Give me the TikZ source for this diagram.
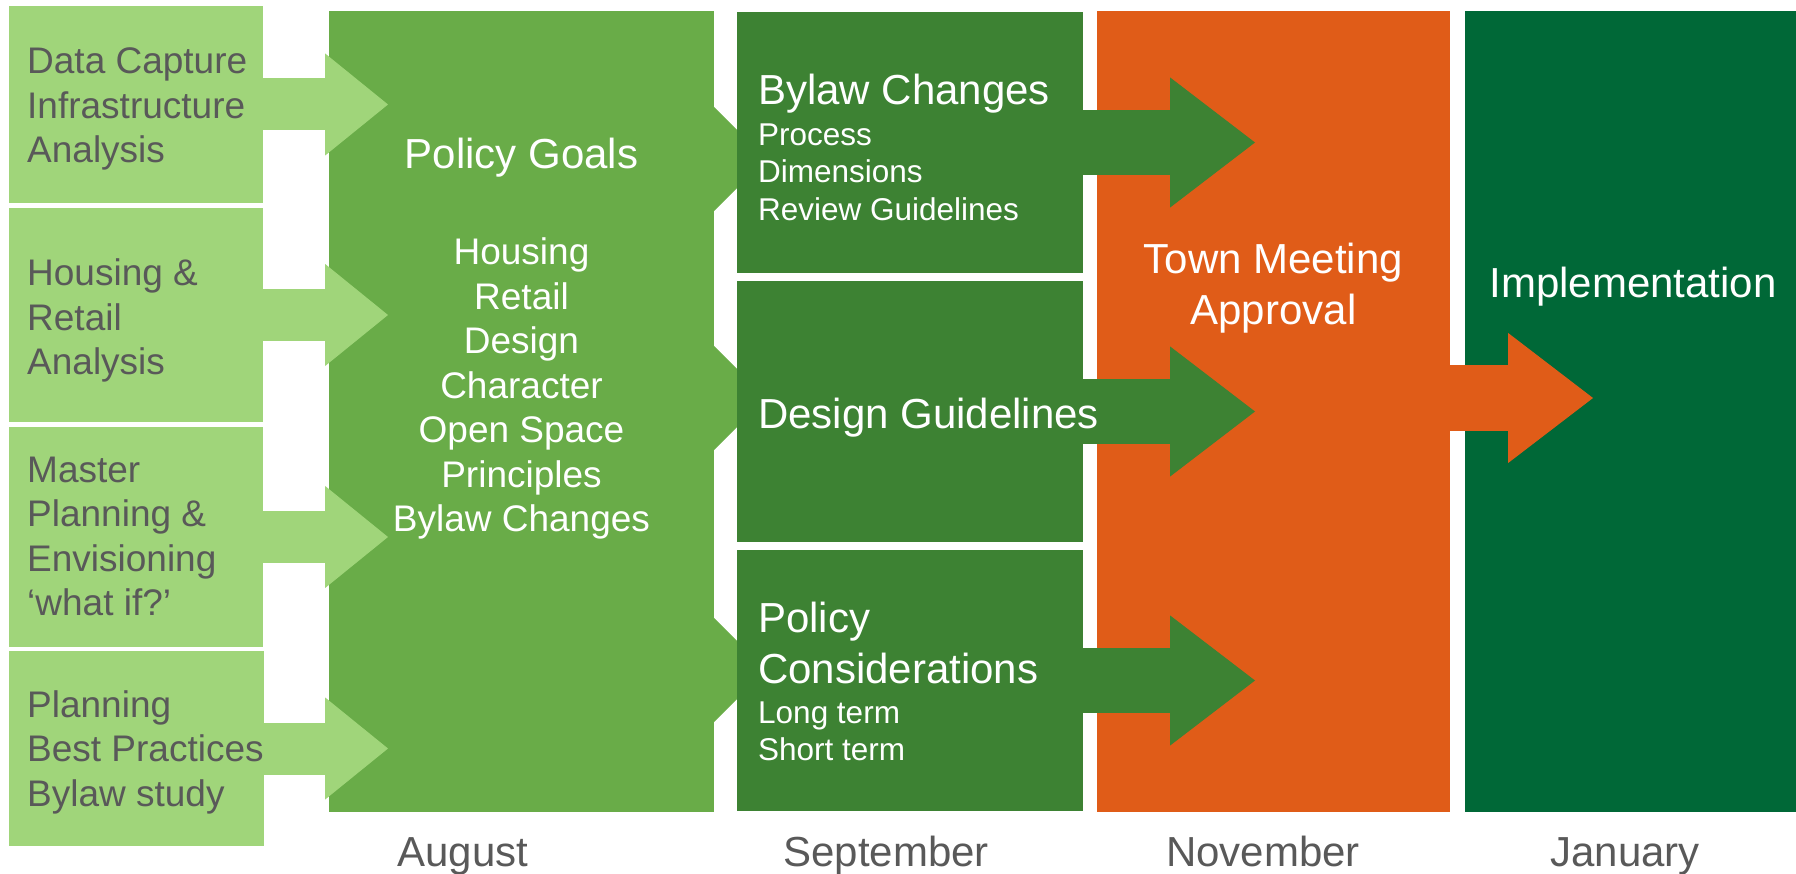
\documentclass[tikz,border=0pt]{standalone}
\usepackage{fontspec}
\setmainfont{Liberation Sans}
\usetikzlibrary{arrows.meta}
\definecolor{leafgreen}{RGB}{160,213,122}
\definecolor{goalgreen}{RGB}{105,172,72}
\definecolor{septgreen}{RGB}{61,130,51}
\definecolor{townorange}{RGB}{224,92,24}
\definecolor{pinegreen}{RGB}{0,104,55}
\definecolor{labelgray}{RGB}{89,89,89}

\begin{document}
\begin{tikzpicture}[x=1pt,y=-1pt,
  block/.style={inner sep=0pt,outer sep=0pt,anchor=north west},
  intext/.style={inner sep=0pt,anchor=north west,align=left,text=labelgray,
    font=\fontsize{37}{44.5}\selectfont},
  head/.style={inner sep=0pt,text=white,font=\fontsize{42}{51}\selectfont},
  items/.style={inner sep=0pt,text=white,font=\fontsize{31.5}{37.5}\selectfont},
  month/.style={inner sep=0pt,anchor=base,text=labelgray,
    font=\fontsize{42}{51}\selectfont},
  feed/.style={leafgreen,line width=52pt,
    -{Triangle[length=63pt,width=102pt,line width=1pt]}},
  split/.style={goalgreen,line width=1pt,
    -{Triangle[length=52pt,width=104pt,line width=1pt]}},
  push/.style={line width=65pt,
    -{Triangle[length=85pt,width=130pt,line width=1pt]}}]
  \useasboundingbox (0,0) rectangle (1796,874);

  % inputs on the left
  \node[block,fill=leafgreen,minimum width=254pt,minimum height=197pt] (dc) at (9,6) {};
  \node[block,fill=leafgreen,minimum width=254pt,minimum height=214pt] (hr) at (9,208) {};
  \node[block,fill=leafgreen,minimum width=254pt,minimum height=220pt] (mp) at (9,427) {};
  \node[block,fill=leafgreen,minimum width=255pt,minimum height=195pt] (pb) at (9,651) {};
  \node[intext] (dctext) at (27,47.5) {Data Capture\\Infrastructure\\Analysis};
  \node[intext] (hrtext) at (27,258.5) {Housing \&\\Retail\\Analysis};
  \node[intext] (mptext) at (27,456.8) {Master\\Planning \&\\Envisioning\\‘what if?’};
  \node[intext] (pbtext) at (27,690) {Planning\\Best Practices\\Bylaw study};

  % august
  \node[block,fill=goalgreen,minimum width=385pt,minimum height=801pt] (goals) at (329,11) {};
  \node[head,anchor=base] (goalstitle) at (521.5,169) {Policy Goals};
  \node[inner sep=0pt,anchor=north,align=center,text=white,
    font=\fontsize{37}{44.5}\selectfont] (goallist) at (521.5,237.5)
    {Housing\\Retail\\Design\\Character\\Open Space\\Principles\\Bylaw Changes};
  \coordinate (feedtip) at ([xshift=59pt]goals.west);
  \foreach \src in {dc,hr,mp,pb}
    \draw[feed] (\src.east) -- (\src.east -| feedtip);

  % september
  \coordinate (splitA) at (737,159);
  \coordinate (splitB) at (737,398);
  \coordinate (splitC) at (737,670);
  \foreach \pt in {splitA,splitB,splitC}
    \draw[split] (goals.east |- \pt) -- ([xshift=29pt]\pt);
  \node[block,fill=septgreen,minimum width=346pt,minimum height=261pt] (bylaw) at (737,12) {};
  \node[block,fill=septgreen,minimum width=346pt,minimum height=261pt] (design) at (737,281) {};
  \node[block,fill=septgreen,minimum width=346pt,minimum height=261pt] (polcon) at (737,550) {};

  % november
  \node[block,fill=townorange,minimum width=353pt,minimum height=801pt] (town) at (1097,11) {};
  \node[head,anchor=north,align=center] (towntext) at (1273.5,243)
    {Town Meeting\\Approval};
  \coordinate (votetip) at ([xshift=158pt]town.west);
  \foreach \src in {bylaw,design,polcon}
    \draw[push,septgreen] (\src.east) -- (\src.east -| votetip);

  % september texts go over the arrows
  \node[head,anchor=base west] (bylawtitle) at (758,105) {Bylaw Changes};
  \node[items,anchor=north west,align=left] (bylawitems) at (758,123.4)
    {Process\\Dimensions\\Review Guidelines};
  \node[head,anchor=base west] (designtitle) at (758,428) {Design Guidelines};
  \node[head,anchor=north west,align=left] (polcontitle) at (758,602)
    {Policy\\Considerations};
  \node[items,anchor=north west,align=left] (polconitems) at (758,701.4)
    {Long term\\Short term};

  % january
  \node[block,fill=pinegreen,minimum width=331pt,minimum height=801pt] (impl) at (1465,11) {};
  \node[head,anchor=base] (impltext) at (1633,298) {Implementation};
  \coordinate (impltip) at ([xshift=128pt,yshift=13.5pt]impl.west);
  \draw[push,townorange] (town.east |- impltip) -- (impltip);

  % months
  \node[month] (aug) at (463,866) {August};
  \node[month] (sep) at (886,866) {September};
  \node[month] (nov) at (1263,866) {November};
  \node[month] (jan) at (1625,866) {January};
\end{tikzpicture}
\end{document}
